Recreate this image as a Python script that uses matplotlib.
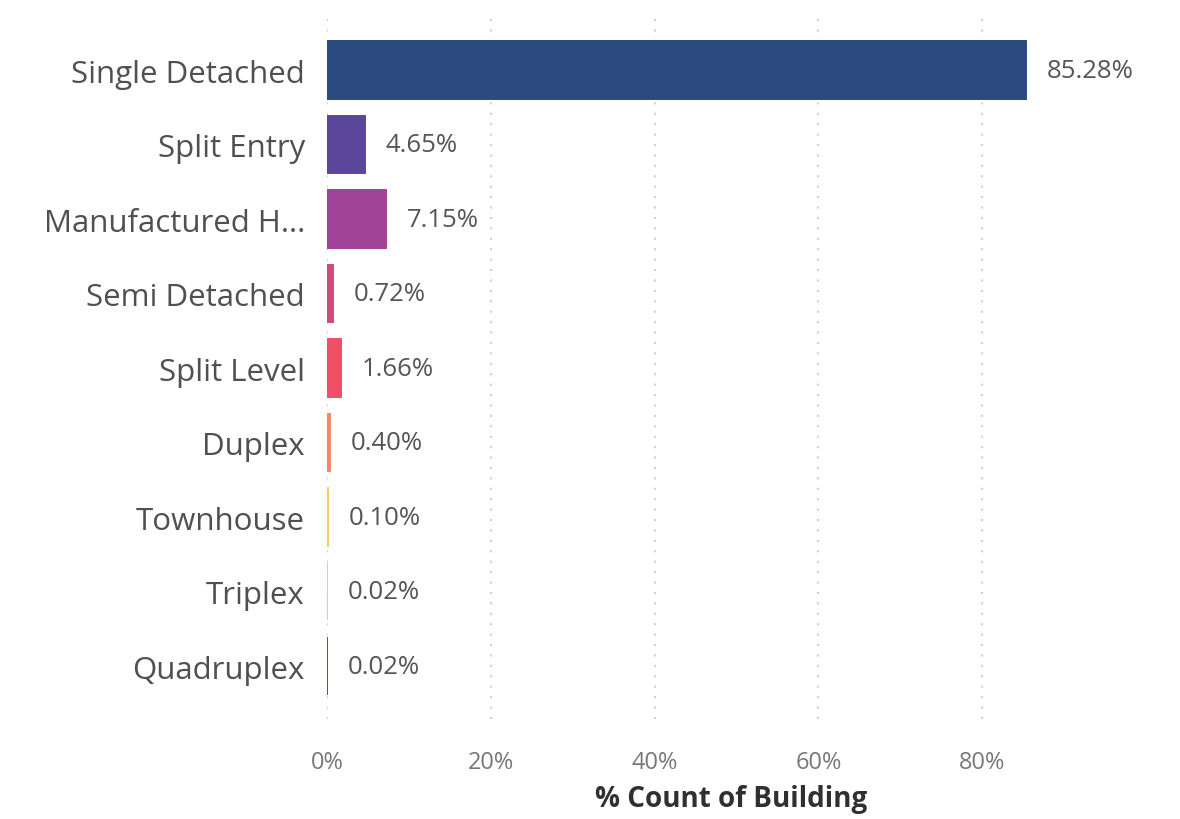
import matplotlib.pyplot as plt
import numpy as np

categories = ["Single Detached", "Split Entry", "Manufactured H...", "Semi Detached",
              "Split Level", "Duplex", "Townhouse", "Triplex", "Quadruplex"]
values = [85.28, 4.65, 7.15, 0.72, 1.66, 0.40, 0.10, 0.02, 0.02]
colors = ["#2b4a7e", "#5b479a", "#a2439a", "#d0497c", "#f04f68",
          "#f4896a", "#f2cf5a", "#e8d27a", "#5c5a3c"]
xticks = [0, 20, 40, 60, 80]

plt.rcParams['font.family'] = ['Open Sans', 'DejaVu Sans']

fig = plt.figure(figsize=(11.8, 8.2), dpi=100)
# axes placed in pixel terms: left=327, right=1160, top=20, bottom=720
ax = fig.add_axes([327 / 1180, 100 / 820, (1160 - 327) / 1180, 700 / 820])

y = np.arange(len(categories))
# thin edge in the bar colour so the tiny values still show as a sliver
bars = ax.barh(y, values, height=0.77, color=colors, edgecolor=colors, linewidth=1.4)

ax.set_xlim(0, 101.7)
ax.set_ylim(8.71, -0.685)

ax.set_yticks(y)
ax.set_yticklabels(categories, fontsize=22.5, color="#505050")
ax.set_xticks(xticks)
ax.set_xticklabels([f"{t}%" for t in xticks], fontsize=17, color="#777777")
ax.tick_params(axis='both', length=0)
ax.tick_params(axis='y', pad=16)
ax.tick_params(axis='x', pad=22)

ax.grid(axis='x', linestyle=(0, (1, 4)), color="#d0d0d0", linewidth=1.5)
ax.set_axisbelow(True)
for s in ax.spines.values():
    s.set_visible(False)

for bar, v in zip(bars, values):
    ax.annotate(f"{v:.2f}%", (bar.get_width(), bar.get_y() + bar.get_height() / 2),
                xytext=(15, 0), textcoords='offset points',
                ha='left', va='center', fontsize=18.5, color="#555555")

ax.set_xlabel("% Count of Building", fontsize=20, fontweight='bold', color="#303030",
              va='center')
ax.xaxis.set_label_coords((731 - 327) / (1160 - 327), -80 / 700)

fig.savefig("out.png", dpi=100)
